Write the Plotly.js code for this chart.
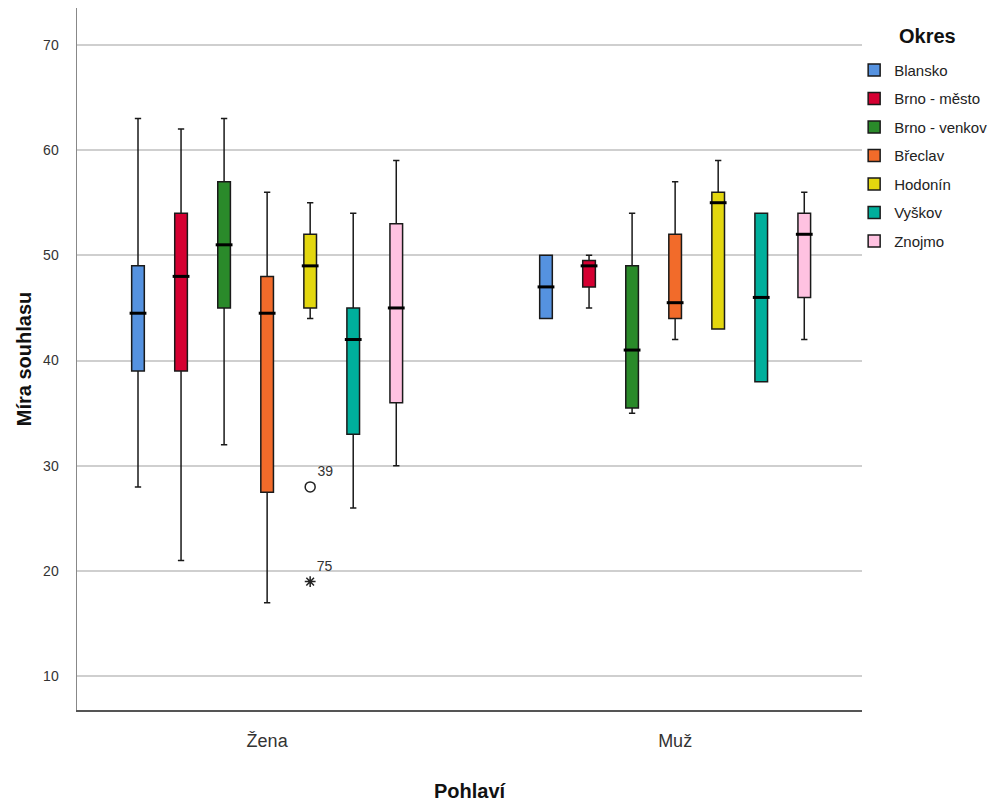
<!DOCTYPE html>
<html>
<head>
<meta charset="utf-8">
<script src="https://cdn.plot.ly/plotly-3.0.1.min.js"></script>
<style>html,body{margin:0;padding:0;background:#fff;}#chart{width:999px;height:802px;}</style>
</head>
<body>
<div id="chart"></div>
<script>
// ---- data ----
const categories = ['Žena', 'Muž'];
const districts = ['Blansko', 'Brno - město', 'Brno - venkov', 'Břeclav', 'Hodonín', 'Vyškov', 'Znojmo'];
const legendTitle = 'Okres';
const colors = ['#5592E0', '#D50032', '#2A8A2A', '#F26B2A', '#E3D70F', '#00AF9C', '#FFC2E1'];
// per district: [Žena, Muž]
const minVals    = [[28, 44], [21, 45], [32, 35],   [17, 42],   [44, 43], [26, 38], [30, 42]];
const q1Vals     = [[39, 44], [39, 47], [45, 35.5], [27.5, 44], [45, 43], [33, 38], [36, 46]];
const medianVals = [[44.5, 47], [48, 49], [51, 41], [44.5, 45.5], [49, 55], [42, 46], [45, 52]];
const q3Vals     = [[49, 50], [54, 49.5], [57, 49], [48, 52],   [52, 56], [45, 54], [53, 54]];
const maxVals    = [[63, 50], [62, 50], [63, 54],   [56, 57],   [55, 59], [54, 54], [59, 56]];
// outliers (Hodonín, Žena)
const outlierDistrict = 'Hodonín';
const outlierGroup = 'Žena';
const outlierValues = [28, 19];
const outlierLabels = ['39', '75'];
const outlierSymbols = ['circle-open', 'asterisk-open'];

// ---- layout helpers ----
const slot = 0.1055;
const boxW = 0.031;
const pos = (g, i) => g + (i - (districts.length - 1) / 2) * slot;
const FONT = 'Liberation Sans, Arial, sans-serif';

const traces = [];
districts.forEach((d, i) => {
  traces.push({
    type: 'box',
    name: d,
    legendgroup: d,
    x: categories.map((c, g) => pos(g, i)),
    q1: q1Vals[i],
    median: medianVals[i],
    q3: q3Vals[i],
    lowerfence: minVals[i],
    upperfence: maxVals[i],
    width: boxW,
    fillcolor: colors[i],
    line: {color: '#1a1a1a', width: 1.5},
    whiskerwidth: 0.5,
    boxpoints: false,
    hoverinfo: 'y+name'
  });
});
// thick median lines
districts.forEach((d, i) => {
  traces.push({
    type: 'scatter', mode: 'markers', showlegend: false, legendgroup: d, hoverinfo: 'skip',
    x: categories.map((c, g) => pos(g, i)),
    y: medianVals[i],
    marker: {symbol: 'line-ew', size: 12, color: '#000', line: {color: '#000', width: 3}}
  });
});
// outliers
const oi = districts.indexOf(outlierDistrict);
const og = categories.indexOf(outlierGroup);
outlierValues.forEach((v, k) => {
  traces.push({
    type: 'scatter', mode: 'markers+text', showlegend: false, hoverinfo: 'y',
    x: [pos(og, oi)], y: [v],
    text: [outlierLabels[k]], textposition: 'top right',
    textfont: {family: FONT, size: 14, color: '#333'},
    marker: {symbol: outlierSymbols[k], size: outlierSymbols[k] === 'circle-open' ? 10 : 9,
             color: '#222', line: {color: '#222', width: 1.5}}
  });
});

const layout = {
  width: 999, height: 802,
  margin: {l: 77, r: 137, t: 8, b: 92, autoexpand: false},
  paper_bgcolor: '#fff', plot_bgcolor: '#fff',
  font: {family: FONT, color: '#222'},
  showlegend: true,
  xaxis: {
    range: [-0.466, 1.458],
    tickmode: 'array',
    tickvals: categories.map((c, g) => g),
    ticktext: categories,
    tickfont: {size: 18, color: '#333'},
    ticks: '',
    ticklabelstandoff: 14,
    showgrid: false, zeroline: false,
    showline: true, linecolor: '#555', linewidth: 1.5,
    automargin: false,
    title: {text: 'Pohlaví', font: {size: 20, color: '#111', weight: 'bold'}, standoff: 40}
  },
  yaxis: {
    range: [6.8, 73.5],
    tickmode: 'linear', tick0: 10, dtick: 10,
    tickfont: {size: 14, color: '#333'},
    ticks: '',
    ticklabelstandoff: 14,
    showgrid: true, gridcolor: '#cfcfcf', gridwidth: 2,
    zeroline: false,
    showline: true, linecolor: '#888', linewidth: 1.5,
    automargin: false,
    title: {text: 'Míra souhlasu', font: {size: 20, color: '#111', weight: 'bold'}, standoff: 6}
  },
  legend: {
    x: 0.99, xanchor: 'left', y: 0.935, yanchor: 'top',
    font: {size: 15, color: '#222'},
    bgcolor: 'rgba(0,0,0,0)', tracegroupgap: 6
  },
  annotations: [{
    text: legendTitle, xref: 'paper', yref: 'paper', x: 1.084, y: 0.96,
    xanchor: 'center', yanchor: 'middle', showarrow: false,
    font: {size: 20, color: '#111', weight: 'bold'}
  }]
};

Plotly.newPlot('chart', traces, layout, {displayModeBar: false, staticPlot: true});
</script>
</body>
</html>
